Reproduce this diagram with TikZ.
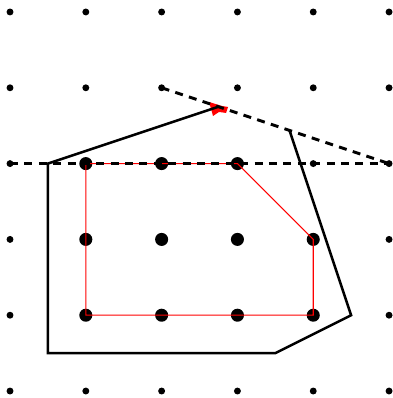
\documentclass[tikz,border=0pt]{standalone}
\begin{document}
\begin{tikzpicture}[x=1cm,y=1cm,
  smalldot/.style={circle,fill=black,inner sep=0pt,minimum size=2.6pt},
  bigdot/.style={circle,fill=black,inner sep=0pt,minimum size=4.9pt},
  redpoly/.style={red,line width=0.4pt},
  hull/.style={black,line width=0.95pt,line join=miter},
  dashline/.style={black,line width=1.1pt,dash pattern=on 3pt off 2.4pt}]
\useasboundingbox (-0.132,-0.092) rectangle (5.040,5.158);
% grid of small dots
\foreach \i in {0,...,5}{
  \foreach \j in {0,...,5}{
    \node[smalldot] (g\i\j) at (\i,\j) {};
  }
}
% large dots
\foreach \p in {{1,3},{2,3},{3,3},{1,2},{2,2},{3,2},{4,2},{1,1},{2,1},{3,1},{4,1}}{
  \node[bigdot] at (\p) {};
}
% red polygon
\draw[redpoly] (g13.center) -- (g33.center) -- (g42.center) -- (g41.center) -- (g11.center) -- cycle;
% red mark
\fill[red] (2.625,3.813) -- (2.797,3.760) -- (2.876,3.747) -- (2.850,3.668) -- (2.757,3.681) -- (2.678,3.628) -- (2.652,3.720) -- cycle;
% black polygon
\coordinate (top) at (2.75,3.75);
\coordinate (tr) at (3.6875,3.4375);
\coordinate (a) at (0.5,3);
\coordinate (b) at (0.5,0.5);
\coordinate (c) at (3.5,0.5);
\coordinate (d) at (4.5,1);
\draw[hull] (top) -- (a) -- (b) -- (c) -- (d) -- (tr);
% dashed lines
\draw[dashline] (g03.center) -- (g53.center);
\draw[dashline] (g24.center) -- (g53.center);
\end{tikzpicture}
\end{document}
